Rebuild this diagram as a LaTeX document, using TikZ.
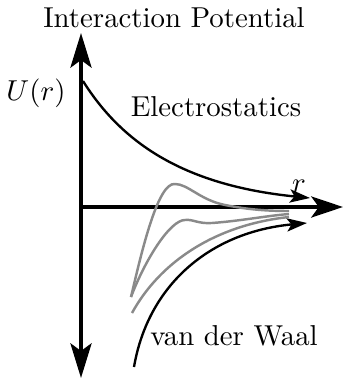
\documentclass[tikz,border=0pt]{standalone}
\usetikzlibrary{arrows.meta}
\begin{document}
\begin{tikzpicture}[x=0.3472pt,y=-0.3472pt,
  axis/.style={line width=1.39pt,{Stealth[length=12pt,width=7.3pt,inset=2.6pt]}-{Stealth[length=12pt,width=7.3pt,inset=2.6pt]}},
  curve/.style={line width=0.82pt,-{Stealth[length=7pt,width=4.6pt,inset=1.6pt]}},
  grey/.style={line width=0.85pt,draw={rgb,255:red,138;green,138;blue,138}},
  lab/.style={anchor=base,inner sep=0pt}]
\useasboundingbox (0,0) rectangle (344,378);
% axes
\coordinate (ytop) at (81,33);
\coordinate (ybot) at (81,378);
\coordinate (xo) at (81,207);
\coordinate (xend) at (343,207);
\draw[axis] (ybot) -- (ytop);
\draw[line width=1.39pt,-{Stealth[length=11pt,width=7.3pt,inset=2.6pt]}] (xo) -- (xend);
% electrostatics
\coordinate (es0) at (83,81);
\coordinate (es1) at (310,198);
\draw[curve] (es0) .. controls (120,140) and (180,185) .. (es1);
% van der Waals
\coordinate (vw0) at (134,367);
\coordinate (vw1) at (307,223);
\draw[curve] (vw0) .. controls (148,285) and (210,232) .. (vw1);
% grey curves
\coordinate (g0) at (131,297);
\coordinate (g3) at (132,313);
\draw[grey] (g0) .. controls (142,250) and (158,182) .. (175,184)
  .. controls (188,184) and (200,200) .. (225,205)
  .. controls (250,210) and (270,211) .. (289,211);
\draw[grey] (g0) .. controls (145,260) and (170,220) .. (185,220)
  .. controls (193,219) and (198,224) .. (212,223)
  .. controls (240,221) and (265,216) .. (289,214);
\draw[grey] (g3) .. controls (160,262) and (215,225) .. (289,217);
% labels
\node[lab] (title) at (174,28) {Interaction Potential};
\node[lab] (U) at (36,100) {$U(r)$};
\node[lab] (es) at (216,117) {Electrostatics};
\node[lab] (r) at (299,192) {$r$};
\node[lab] (vdw) at (234,345) {van der Waal};
\end{tikzpicture}
\end{document}
